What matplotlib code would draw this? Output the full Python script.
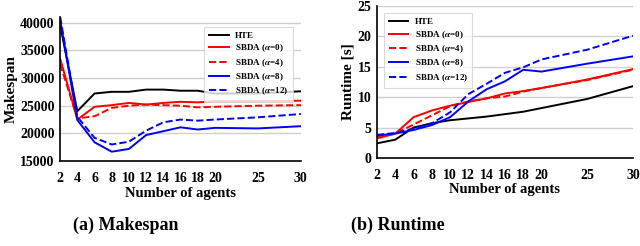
import matplotlib.pyplot as plt

agents = [2, 4, 6, 8, 10, 12, 14, 16, 18, 20, 25, 30]
labels = ['HTE', r'SBDA ($\alpha$=0)', r'SBDA ($\alpha$=4)', r'SBDA ($\alpha$=8)', r'SBDA ($\alpha$=12)']

# makespan
ms_hte = [39500, 24000, 27200, 27500, 27500, 27900, 27900, 27700, 27700, 27200, 27200, 27600]
ms_a0 = [33500, 22500, 24800, 25100, 25500, 25200, 25500, 25700, 25600, 25800, 25800, 25900]
ms_a4 = [32500, 22700, 23100, 24600, 25000, 25200, 25100, 25000, 24700, 24800, 25000, 25100]
ms_a8 = [40500, 22400, 18400, 16700, 17200, 19700, 20400, 21100, 20700, 21000, 20900, 21300]
ms_a12 = [41000, 23000, 19200, 18000, 18500, 20500, 22000, 22500, 22300, 22500, 22900, 23500]

# runtime [s]
rt_hte = [2.4, 3.0, 5.0, 5.7, 6.2, 6.5, 6.8, 7.2, 7.6, 8.2, 9.7, 11.8]
rt_a0 = [3.2, 4.0, 6.7, 7.8, 8.6, 9.2, 9.8, 10.6, 11.0, 11.5, 12.9, 14.6]
rt_a4 = [3.5, 4.0, 5.5, 7.0, 8.5, 9.3, 9.8, 10.1, 10.9, 11.5, 12.8, 14.5]
rt_a8 = [3.7, 4.0, 4.6, 5.4, 6.7, 9.3, 11.3, 12.6, 14.5, 14.2, 15.5, 16.7]
rt_a12 = [3.8, 4.1, 4.8, 5.7, 7.5, 10.5, 12.2, 14.0, 14.9, 16.2, 17.8, 20.1]

styles = [('black', '-'), ('red', '-'), ('red', '--'), ('blue', '-'), ('blue', '--')]

plt.rcParams['font.family'] = 'Liberation Serif'
plt.rcParams['font.weight'] = 'bold'
plt.rcParams['mathtext.fontset'] = 'stix'

fig = plt.figure(figsize=(6.4, 2.46), dpi=100)
ax1 = fig.add_axes([0.094, 0.345, 0.376, 0.586])
ax2 = fig.add_axes([0.589, 0.358, 0.400, 0.618])


def setup(ax, series, ylim, yticks, ylabel, loc, anchor):
    for ys, (c, ls), lab in zip(series, styles, labels):
        ax.plot(agents, ys, color=c, linestyle=ls, linewidth=1.4, label=lab)
    ax.set_xlim(2, 30)
    ax.set_ylim(*ylim)
    ax.set_xticks([2, 4, 6, 8, 10, 12, 14, 16, 18, 20, 25, 30])
    ax.set_yticks(yticks)
    ax.tick_params(length=0, labelsize=10)
    ax.tick_params(axis='x', pad=8)
    ax.tick_params(axis='y', pad=4)
    for lab in ax.get_xticklabels() + ax.get_yticklabels():
        lab.set_fontweight('bold')
    ax.grid(axis='y', color='#d0d0d0', linewidth=1)
    ax.set_axisbelow(True)
    for s in ['top', 'right']:
        ax.spines[s].set_visible(False)
    ax.spines['left'].set_linewidth(1.2)
    ax.spines['bottom'].set_linewidth(1.2)
    ax.set_xlabel('Number of agents', fontsize=10.5, fontweight='bold', labelpad=1)
    ax.set_ylabel(ylabel, fontsize=11, fontweight='bold', labelpad=2)
    leg = ax.legend(loc=loc, bbox_to_anchor=anchor, fontsize=6.5, frameon=True,
                    fancybox=False, edgecolor='#d0d0d0', handlelength=2.2,
                    labelspacing=0.3, borderpad=0.5, handletextpad=0.7)
    leg.get_frame().set_linewidth(0.8)


setup(ax1, [ms_hte, ms_a0, ms_a4, ms_a8, ms_a12], (15000, 41000),
      [15000, 20000, 25000, 30000, 35000, 40000], 'Makespan', 'upper right', (0.985, 0.96))
setup(ax2, [rt_hte, rt_a0, rt_a4, rt_a8, rt_a12], (0, 25),
      [0, 5, 10, 15, 20, 25], 'Runtime [s]', 'upper left', (0.01, 0.98))

fig.text(0.197, 0.085, '(a) Makespan', fontsize=13, fontweight='bold', ha='center', va='center')
fig.text(0.621, 0.085, '(b) Runtime', fontsize=13, fontweight='bold', ha='center', va='center')

fig.savefig('out.png', dpi=100)
